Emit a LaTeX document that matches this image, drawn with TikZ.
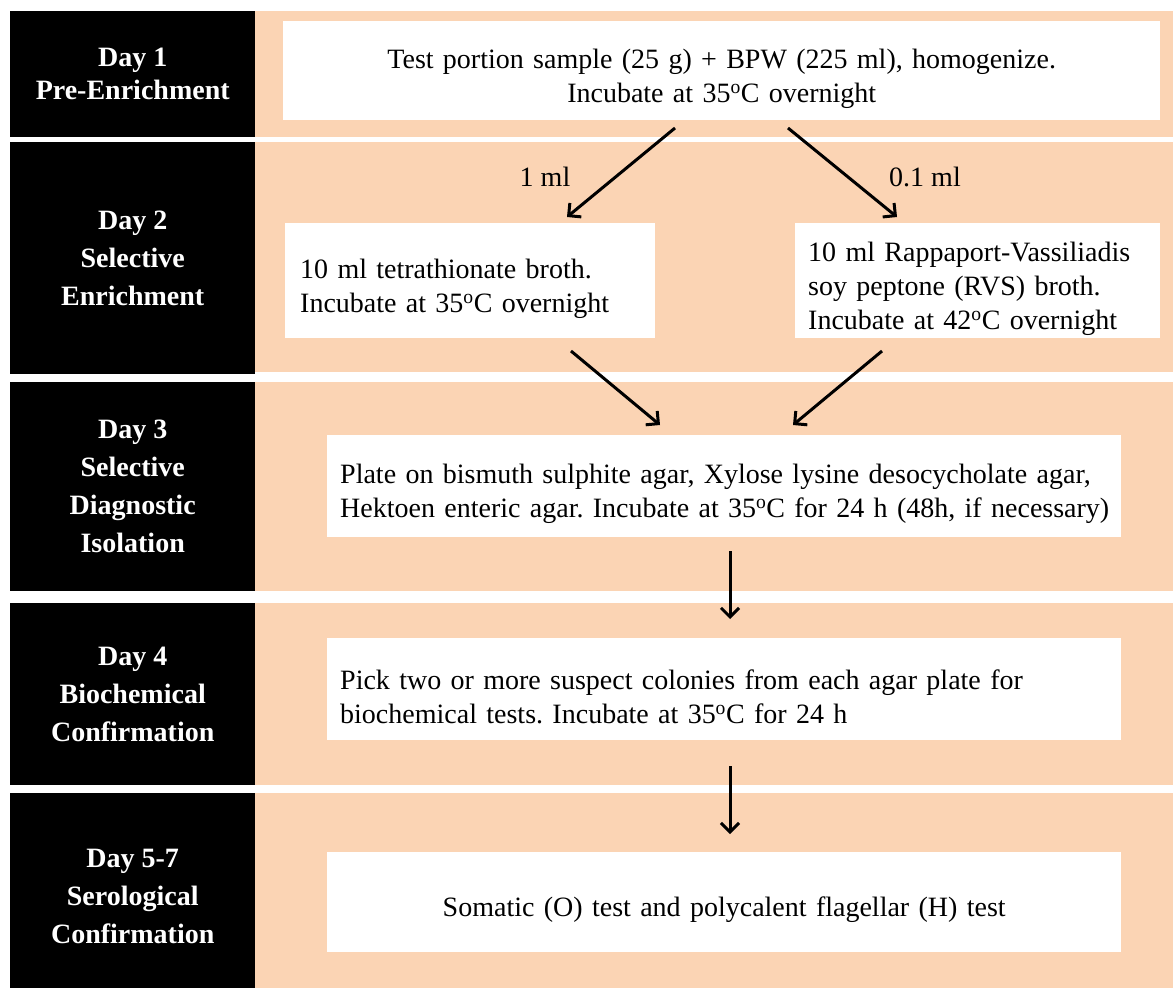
\documentclass[tikz,border=0pt]{standalone}
\usepackage{fontspec}
\setmainfont{Liberation Serif}
\usetikzlibrary{arrows.meta}
\definecolor{peach}{HTML}{FBD4B4}
\newcommand{\dgr}{\textsuperscript{o}}
\frenchspacing
\begin{document}
\begin{tikzpicture}[x=1pt,y=-1pt,
  hdr/.style={fill=black,text=white,font=\fontsize{28}{38}\selectfont\bfseries,
    align=center,minimum width=245pt,inner sep=0pt,anchor=north west},
  wbox/.style={fill=white,inner xsep=13pt,inner ysep=0pt,align=left,
    anchor=north west,font=\fontsize{28}{34}\selectfont,
    execute at begin node={\rule{0pt}{35pt}}},
  flow/.style={line width=3pt,-{Straight Barb[length=9pt,width=18pt]}},
  lbl/.style={font=\fontsize{28}{34}\selectfont,inner sep=0pt}]

\useasboundingbox (0,0) rectangle (1173,988);
\fill[white] (0,0) rectangle (1173,988);

% peach bands
\fill[peach] (255,11) rectangle (1173,137);
\fill[peach] (255,142) rectangle (1173,372);
\fill[peach] (255,382) rectangle (1173,591);
\fill[peach] (255,603) rectangle (1173,785);
\fill[peach] (255,793) rectangle (1173,1000);

% headers
\node[hdr,minimum height=126pt,font=\fontsize{28}{33}\selectfont\bfseries] (h1) at (10,11) {Day 1\\Pre-Enrichment};
\node[hdr,minimum height=232pt] (h2) at (10,142) {Day 2\\Selective\\Enrichment};
\node[hdr,minimum height=209pt] (h3) at (10,382) {Day 3\\Selective\\Diagnostic\\Isolation};
\node[hdr,minimum height=182pt] (h4) at (10,603) {Day 4\\Biochemical\\Confirmation};
\node[hdr,minimum height=207pt] (h5) at (10,793) {Day 5-7\\Serological\\Confirmation};

% boxes
\node[wbox,text width=851pt,align=center,minimum height=99pt] (b1) at (283,21)
  {\mbox{Test portion sample (25 g) + BPW (225 ml), homogenize.}\\\mbox{Incubate at 35\dgr C overnight}};
\node[wbox,inner xsep=15pt,text width=340pt,minimum height=115pt] (b2l) at (285,223)
  {\mbox{10 ml tetrathionate broth.}\\\mbox{Incubate at 35\dgr C overnight}};
\node[wbox,text width=339pt,minimum height=115pt] (b2r) at (795,223)
  {\mbox{10 ml Rappaport-Vassiliadis}\\\mbox{soy peptone (RVS) broth.}\\\mbox{Incubate at 42\dgr C overnight}};
\node[wbox,text width=768pt,minimum height=102pt] (b3) at (327,435)
  {\mbox{Plate on bismuth sulphite agar, Xylose lysine desocycholate agar,}\\\mbox{Hektoen enteric agar. Incubate at 35\dgr C for 24 h (48h, if necessary)}};
\node[wbox,text width=768pt,minimum height=102pt] (b4) at (327,638)
  {\mbox{Pick two or more suspect colonies from each agar plate for}\\\mbox{biochemical tests. Incubate at 35\dgr C for 24 h}};
\node[wbox,text width=768pt,align=center,minimum height=100pt] (b5) at (327,852)
  {\mbox{Somatic (O) test and polycalent flagellar (H) test}};

% labels
\node[lbl] (l1) at (545,177) {1 ml};
\node[lbl] (l2) at (925,177) {0.1 ml};

% arrow end points
\coordinate (a1s) at (675,128); \coordinate (a1e) at (567,217);
\coordinate (a2s) at (788,128); \coordinate (a2e) at (897,217);
\coordinate (a3s) at (571,351); \coordinate (a3e) at (660,425);
\coordinate (a4s) at (882,351); \coordinate (a4e) at (793,425);
\coordinate (a5s) at (730,551); \coordinate (a5e) at (730,619);
\coordinate (a6s) at (730,766); \coordinate (a6e) at (730,834);

\draw[flow] (a1s) -- (a1e);
\draw[flow] (a2s) -- (a2e);
\draw[flow] (a3s) -- (a3e);
\draw[flow] (a4s) -- (a4e);
\draw[flow] (a5s) -- (a5e);
\draw[flow] (a6s) -- (a6e);
\end{tikzpicture}
\end{document}
